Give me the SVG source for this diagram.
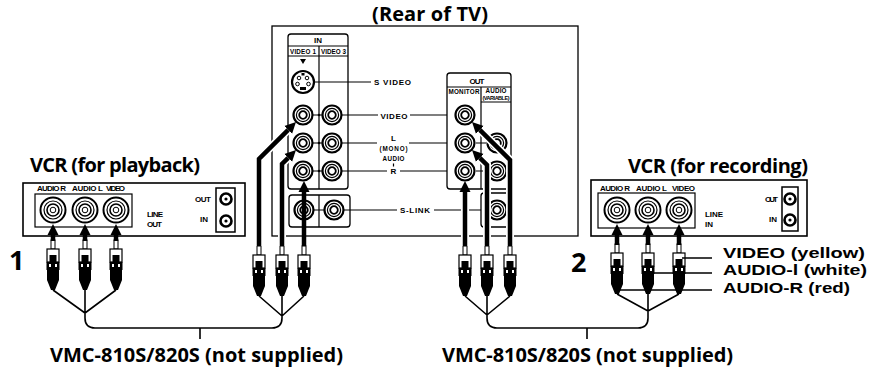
<svg xmlns="http://www.w3.org/2000/svg" xmlns:xlink="http://www.w3.org/1999/xlink" width="890" height="369" viewBox="0 0 890 369">
<style>
.ln{fill:none;stroke:#000;stroke-width:1.2}
.bx{fill:#fff;stroke:#000;stroke-width:1.3}
.cab{fill:none;stroke:#000;stroke-width:4.5;marker-end:url(#ah)}
.halo{fill:none;stroke:#fff;stroke-width:8}
.wire{fill:none;stroke:#000;stroke-width:1.6}
.big{font-family:"Open Sans","Liberation Sans",sans-serif;font-weight:bold;font-size:20px;fill:#000}
.lab{font-family:"Liberation Sans",Arial,sans-serif;font-weight:bold;font-size:15px;fill:#000}
.num{font-family:"Open Sans","Liberation Sans",sans-serif;font-weight:bold;font-size:27px;fill:#000}
.sm{font-family:"Liberation Sans",Arial,sans-serif;font-weight:bold;font-size:8px;fill:#000}
.xs{font-family:"Liberation Sans",Arial,sans-serif;font-weight:bold;font-size:6.3px;fill:#000}
.mid{text-anchor:middle}
</style>
<defs>
<marker id="ah" markerUnits="userSpaceOnUse" markerWidth="12" markerHeight="12" viewBox="0 -6 12 12" refX="0" refY="0" orient="auto"><path d="M0,-5.5 L11,0 L0,5.5 z" fill="#000"/></marker>
<g id="jk"><circle r="9.5" fill="#fff" stroke="#000" stroke-width="2.2"/><circle r="6.6" fill="none" stroke="#000" stroke-width="1.2"/><circle r="3.8" fill="none" stroke="#000" stroke-width="1.8"/></g>
<g id="vjk"><circle r="12.5" fill="#fff" stroke="#000" stroke-width="2"/><circle r="9" fill="none" stroke="#000" stroke-width="1.2"/><circle r="6" fill="none" stroke="#000" stroke-width="1.6"/><circle r="2.8" fill="none" stroke="#000" stroke-width="1"/></g>
<g id="cx"><circle r="5.5" fill="#fff" stroke="#000" stroke-width="2.6"/><circle r="1.6" fill="#000"/></g>
<g id="plug">
<rect x="-2" y="0" width="4" height="9" fill="#fff" stroke="#000" stroke-width="1"/>
<rect x="-6" y="9" width="12" height="13" fill="#fff" stroke="#000" stroke-width="1.2"/>
<rect x="-3.5" y="15" width="7" height="7" fill="#000"/>
<rect x="-6.5" y="22" width="13" height="8" fill="#000"/>
<rect x="-4" y="24" width="2" height="3" fill="#fff"/>
<rect x="2" y="24" width="2" height="3" fill="#fff"/>
<path d="M-6,30 H6 V40 L2,50 H-2 L-6,40 Z" fill="#000"/>
</g>
</defs>
<rect width="890" height="369" fill="#fff"/>

<g id="tv">
<text class="big" x="372" y="21" textLength="116">(Rear of TV)</text>
<rect x="272" y="26" width="306" height="210" class="bx"/>
<g id="tv-in">
<rect x="288" y="34" width="60" height="155" rx="3" class="bx"/>
<path class="ln" d="M288,46 H348 M288,56 H348 M319,46 V189"/>
<text class="sm mid" x="318" y="43">IN</text>
<text class="xs" x="290" y="53.5" textLength="26">VIDEO 1</text>
<text class="xs" x="321" y="53.5" textLength="25">VIDEO 3</text>
<path d="M300,59 H306 L303,64 Z" fill="#000"/>
<g transform="translate(303,82)">
<circle r="11" fill="#fff" stroke="#000" stroke-width="2.2"/>
<circle cx="-4" cy="-4" r="1.8" fill="none" stroke="#000" stroke-width="1"/>
<circle cx="4" cy="-4" r="1.8" fill="none" stroke="#000" stroke-width="1"/>
<circle cx="-5.5" cy="2" r="1.8" fill="none" stroke="#000" stroke-width="1"/>
<circle cx="5.5" cy="2" r="1.8" fill="none" stroke="#000" stroke-width="1"/>
<rect x="-3" y="5" width="6" height="3" fill="#000"/>
<rect x="-1.5" y="-9" width="3" height="2.5" fill="#000"/>
</g>
<path class="ln" d="M313,115 H322 M313,143 H322 M313,171 H322"/>
<use xlink:href="#jk" x="303" y="115"/><use xlink:href="#jk" x="303" y="143"/><use xlink:href="#jk" x="303" y="171"/>
<use xlink:href="#jk" x="332" y="115"/><use xlink:href="#jk" x="332" y="143"/><use xlink:href="#jk" x="332" y="171"/>
<circle cx="319" cy="115" r="1.3"/><circle cx="319" cy="143" r="1.3"/><circle cx="319" cy="171" r="1.3"/>
<rect x="289" y="195" width="61" height="32" rx="3" class="bx"/>
<path class="ln" d="M319,195 V227 M313,210 H324"/>
<use xlink:href="#jk" x="304" y="210"/><use xlink:href="#jk" x="334" y="210"/>
</g>
<g id="tv-labels">
<path class="ln" d="M314,82 H371 M342,115 H378 M410,115 H456 M342,143 H377 M409,143 H456 M342,171 H387 M400,171 H456 M393.5,163.5 V166.5 M344,210 H397 M434,210 H488"/>
<text class="sm" x="374" y="85" textLength="37">S VIDEO</text>
<text class="sm mid" x="394" y="118.5" textLength="27">VIDEO</text>
<text class="sm mid" x="393.5" y="141">L</text>
<text class="xs mid" x="393.5" y="151" textLength="28">(MONO)</text>
<text class="xs mid" x="393.5" y="161" textLength="22">AUDIO</text>
<text class="sm mid" x="393.5" y="174">R</text>
<text class="sm" x="400" y="213" textLength="30">S-LINK</text>
</g>
<g id="tv-out">
<rect x="447" y="73" width="64" height="116" rx="3" class="bx"/>
<path class="ln" d="M447,87 H511 M481,87 V189 M481,102 H511 M476,143 H486 M476,171 H486"/>
<text class="sm mid" x="477" y="84" textLength="15">OUT</text>
<text class="xs" x="448.5" y="94" textLength="31" style="font-weight:900">MONITOR</text>
<text class="xs mid" x="496" y="93" textLength="21">AUDIO</text>
<text class="xs mid" x="496" y="99.5" textLength="27" style="font-size:5.5px">(VARIABLE)</text>
<use xlink:href="#jk" x="465" y="115"/><use xlink:href="#jk" x="465" y="143"/><use xlink:href="#jk" x="465" y="171"/>
<use xlink:href="#jk" x="497" y="143"/><use xlink:href="#jk" x="497" y="171"/>
<rect x="481" y="193" width="30" height="34" rx="3" class="bx"/>
<use xlink:href="#jk" x="497" y="210"/>
</g>
</g>

<g id="vcr-playback">
<text class="big" x="30" y="172" textLength="170">VCR (for playback)</text>
<rect x="23" y="183" width="222" height="53" class="bx" style="stroke-width:1.6"/>
<rect x="35" y="194" width="97" height="33" class="ln"/>
<text class="sm" x="37" y="191" textLength="29">AUDIO R</text>
<text class="sm" x="72" y="191" textLength="31">AUDIO L</text>
<text class="sm" x="106" y="191" textLength="19">VIDEO</text>
<use xlink:href="#vjk" x="53" y="210"/><use xlink:href="#vjk" x="85" y="210"/><use xlink:href="#vjk" x="116" y="210"/>
<text class="sm" x="147" y="217" textLength="16">LINE</text>
<text class="sm" x="147" y="227" textLength="15">OUT</text>
<text class="sm" x="195" y="202" textLength="16">OUT</text>
<text class="sm" x="200" y="222" textLength="8">IN</text>
<rect x="216" y="188" width="19" height="44" class="ln" style="stroke-width:1.5"/>
<use xlink:href="#cx" x="226" y="199"/><use xlink:href="#cx" x="226" y="221"/>
</g>

<g id="vcr-recording">
<text class="big" x="628" y="173" textLength="180">VCR (for recording)</text>
<rect x="591" y="180" width="216" height="56" class="bx" style="stroke-width:1.6"/>
<rect x="598" y="193" width="97" height="35" class="ln"/>
<text class="sm" x="600" y="191" textLength="30">AUDIO R</text>
<text class="sm" x="636" y="191" textLength="31">AUDIO L</text>
<text class="sm" x="672" y="191" textLength="23">VIDEO</text>
<use xlink:href="#vjk" x="617" y="210"/><use xlink:href="#vjk" x="648" y="210"/><use xlink:href="#vjk" x="679" y="210"/>
<text class="sm" x="705" y="217" textLength="18">LINE</text>
<text class="sm" x="705" y="227" textLength="8">IN</text>
<text class="sm" x="765" y="202" textLength="13">OUT</text>
<text class="sm" x="769" y="222" textLength="8">IN</text>
<rect x="782" y="187" width="16" height="44" class="ln" style="stroke-width:1.5"/>
<use xlink:href="#cx" x="790" y="199"/><use xlink:href="#cx" x="790" y="220"/>
</g>

<g id="cable-1">
<text class="num" x="9" y="270">1</text>
<path class="wire" d="M53,290 L85,313 M85,290 V313 M116,290 L85,313 M259,296 L282,316 M282,296 V316 M304,296 L282,316 M85,313 V318 Q85,328 95,328 H272 Q282,328 282,318 V316 M200,328 V339"/>
<use xlink:href="#plug" x="53" y="240"/><use xlink:href="#plug" x="85" y="240"/><use xlink:href="#plug" x="116" y="240"/>
<use xlink:href="#plug" x="259" y="246"/><use xlink:href="#plug" x="282" y="246"/><use xlink:href="#plug" x="304" y="246"/>
<text class="big" x="50" y="362" textLength="293">VMC-810S/820S (not supplied)</text>
</g>

<g id="cable-2">
<text class="num" x="571" y="272">2</text>
<path class="wire" d="M465,296 L487,315 M487,296 V315 M510,296 L487,315 M617,294 L648,311 M648,294 V311 M679,294 L648,311 M487,315 V318 Q487,328 497,328 H638 Q648,328 648,318 V311 M587,328 V339"/>
<use xlink:href="#plug" x="465" y="246"/><use xlink:href="#plug" x="487" y="246"/><use xlink:href="#plug" x="510" y="246"/>
<use xlink:href="#plug" x="617" y="244"/><use xlink:href="#plug" x="648" y="244"/><use xlink:href="#plug" x="679" y="244"/>
<path class="ln" d="M682,258 H712 M654,273 H712 M617,290 H712" style="stroke-width:1.4"/>
<text class="lab" x="723" y="257.5" textLength="142" lengthAdjust="spacingAndGlyphs">VIDEO (yellow)</text>
<text class="lab" x="723" y="275" textLength="144" lengthAdjust="spacingAndGlyphs">AUDIO-l (white)</text>
<text class="lab" x="723" y="292.5" textLength="127" lengthAdjust="spacingAndGlyphs">AUDIO-R (red)</text>
<text class="big" x="442" y="362" textLength="291">VMC-810S/820S (not supplied)</text>
</g>

<g id="connectors">
<path class="halo" d="M259,246 V159 L289,129 M282,246 V164 L289,157 M465,246 V192 M487,246 V165 L480,158 M510,246 V160 L480,130"/>
<path class="cab" d="M259,246 V159 L288.2,129.8"/>
<path class="cab" d="M282,246 V164 L288.2,157.8"/>
<path class="cab" d="M304,246 V192"/>
<path class="cab" d="M465,246 V192"/>
<path class="cab" d="M487,246 V165 L479.8,157.8"/>
<path class="cab" d="M510,246 V160 L479.8,129.8"/>
<path class="cab" d="M53,241 V235"/>
<path class="cab" d="M85,241 V235"/>
<path class="cab" d="M116,241 V235"/>
<path class="cab" d="M617,245 V235"/>
<path class="cab" d="M648,245 V235"/>
<path class="cab" d="M679,245 V235"/>
</g>
</svg>
